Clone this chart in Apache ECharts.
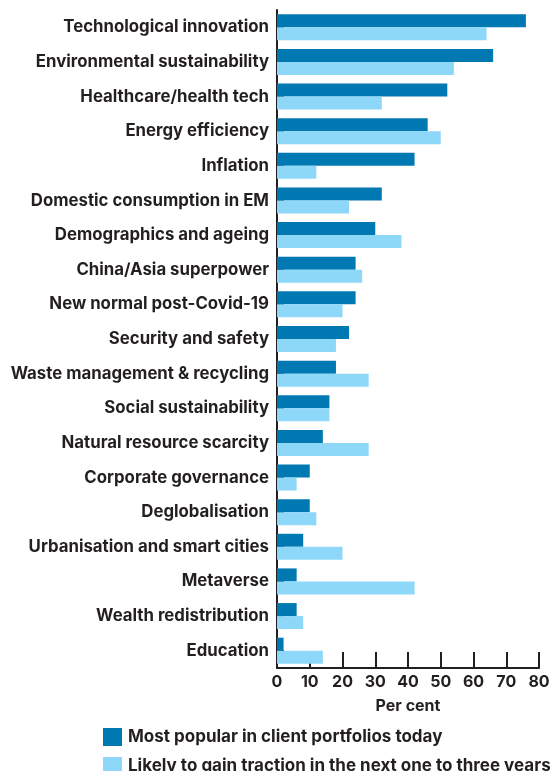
<!DOCTYPE html>
<html>
<head>
<meta charset="utf-8">
<script src="https://cdn.jsdelivr.net/npm/echarts@6/dist/echarts.min.js"></script>
<style>
  html, body { margin: 0; padding: 0; background: #fff; }
  #chart { width: 560px; height: 771px; }
</style>
</head>
<body>
<div id="chart"></div>
<script>
// Investment themes, top to bottom
const themes = [
  'Technological innovation',
  'Environmental sustainability',
  'Healthcare/health tech',
  'Energy efficiency',
  'Inflation',
  'Domestic consumption in EM',
  'Demographics and ageing',
  'China/Asia superpower',
  'New normal post-Covid-19',
  'Security and safety',
  'Waste management & recycling',
  'Social sustainability',
  'Natural resource scarcity',
  'Corporate governance',
  'Deglobalisation',
  'Urbanisation and smart cities',
  'Metaverse',
  'Wealth redistribution',
  'Education'
];

// Share of respondents, per cent
const popularToday = [76, 66, 52, 46, 42, 32, 30, 24, 24, 22, 18, 16, 14, 10, 10, 8, 6, 6, 2];
const gainTraction = [64, 54, 32, 50, 12, 22, 38, 26, 20, 18, 28, 16, 28, 6, 12, 20, 42, 8, 14];

const xTicks = { min: 0, max: 80, step: 10 };

const seriesNames = [
  'Most popular in client portfolios today',
  'Likely to gain traction in the next one to three years'
];

const ink = '#231f20';
const font = 'Inter, "Noto Sans", sans-serif';

const chart = echarts.init(document.getElementById('chart'));
chart.setOption({
  animation: false,
  textStyle: { fontFamily: font },
  grid: { left: 277, right: 21, top: 10, bottom: 103, containLabel: false },
  legend: {
    orient: 'vertical',
    left: 103,
    top: 728,
    height: 60,
    padding: 0,
    itemWidth: 19,
    itemHeight: 18,
    itemGap: 11,
    icon: 'rect',
    textStyle: { color: ink, fontSize: 17, fontWeight: 'bold', fontFamily: font, padding: [0, 0, 0, 1] },
    data: seriesNames
  },
  xAxis: {
    type: 'value',
    min: xTicks.min,
    max: xTicks.max,
    interval: xTicks.step,
    splitLine: { show: false },
    axisLine: { show: true, lineStyle: { color: ink, width: 2 } },
    axisTick: { show: true, inside: true, length: 16, lineStyle: { color: ink, width: 2 } },
    axisLabel: { color: ink, fontSize: 16, fontWeight: 'bold', margin: 6, fontFamily: font },
    name: 'Per cent',
    nameLocation: 'middle',
    nameGap: 30,
    nameTextStyle: { color: ink, fontSize: 16, fontWeight: 'bold', fontFamily: font }
  },
  yAxis: {
    type: 'category',
    inverse: true,
    data: themes,
    axisLine: { show: true, lineStyle: { color: ink, width: 2 } },
    axisTick: { show: true, inside: true, alignWithLabel: true, length: 7, lineStyle: { color: ink, width: 2 } },
    axisLabel: {
      color: ink, fontSize: 16.8, fontWeight: 'bold', margin: 8, fontFamily: font,
      padding: [4, 0, 0, 0]
    }
  },
  series: [
    {
      name: seriesNames[0],
      type: 'bar',
      data: popularToday,
      barWidth: 13,
      barGap: '0%',
      itemStyle: { color: '#0079b2' }
    },
    {
      name: seriesNames[1],
      type: 'bar',
      data: gainTraction,
      barWidth: 13,
      barGap: '0%',
      itemStyle: { color: '#8dd8f8' }
    }
  ]
});
</script>
</body>
</html>
